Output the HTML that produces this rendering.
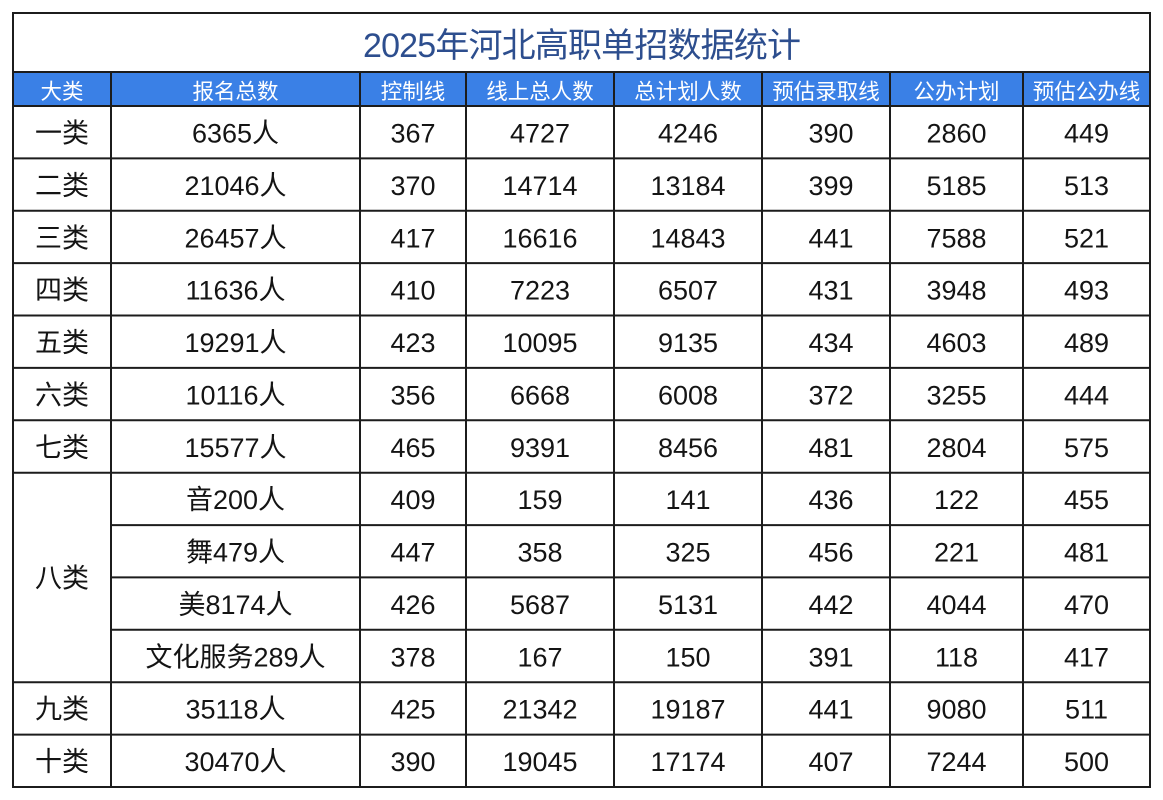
<!DOCTYPE html>
<html><head><meta charset="utf-8">
<style>
html,body{margin:0;padding:0;background:#fff;width:1163px;height:800px;overflow:hidden}
svg{display:block}
text{font-family:"Liberation Sans","Noto Sans CJK SC",sans-serif}
.t{font-size:34px;fill:#2d4e8e}
.h{font-size:21.5px;fill:#fff;text-anchor:middle}
.d{font-size:27px;fill:#141414;text-anchor:middle}
</style></head>
<body>
<svg width="1163" height="800" viewBox="0 0 1163 800" xmlns="http://www.w3.org/2000/svg">
<rect x="0" y="0" width="1163" height="800" fill="#fff"/>
<rect x="13" y="72" width="1137" height="34" fill="#3a80e6"/>
<text class="t" x="363" y="57" textLength="438" lengthAdjust="spacing">2025年河北高职单招数据统计</text>
<g>
<text class="h" x="62" y="99">大类</text>
<text class="h" x="235.5" y="99">报名总数</text>
<text class="h" x="413" y="99">控制线</text>
<text class="h" x="540" y="99">线上总人数</text>
<text class="h" x="688" y="99">总计划人数</text>
<text class="h" x="826" y="99">预估录取线</text>
<text class="h" x="956.5" y="99">公办计划</text>
<text class="h" x="1086.5" y="99">预估公办线</text>
</g>
<g stroke="#1c1c1c" stroke-width="2" fill="none">
<rect x="13" y="13" width="1137" height="774"/>
<line x1="13" y1="72" x2="1150" y2="72"/>
<line x1="13" y1="106" x2="1150" y2="106"/>
<line x1="111" y1="72" x2="111" y2="787"/>
<line x1="360" y1="72" x2="360" y2="787"/>
<line x1="466" y1="72" x2="466" y2="787"/>
<line x1="614" y1="72" x2="614" y2="787"/>
<line x1="762" y1="72" x2="762" y2="787"/>
<line x1="890" y1="72" x2="890" y2="787"/>
<line x1="1023" y1="72" x2="1023" y2="787"/>
<line x1="13" y1="158.4" x2="1150" y2="158.4"/>
<line x1="13" y1="210.8" x2="1150" y2="210.8"/>
<line x1="13" y1="263.1" x2="1150" y2="263.1"/>
<line x1="13" y1="315.5" x2="1150" y2="315.5"/>
<line x1="13" y1="367.9" x2="1150" y2="367.9"/>
<line x1="13" y1="420.3" x2="1150" y2="420.3"/>
<line x1="13" y1="472.7" x2="1150" y2="472.7"/>
<line x1="111" y1="525.1" x2="1150" y2="525.1"/>
<line x1="111" y1="577.4" x2="1150" y2="577.4"/>
<line x1="111" y1="629.8" x2="1150" y2="629.8"/>
<line x1="13" y1="682.2" x2="1150" y2="682.2"/>
<line x1="13" y1="734.6" x2="1150" y2="734.6"/>
</g>
<g>
<text class="d" x="62" y="142.5">一类</text><text class="d" x="235.5" y="142.5">6365人</text><text class="d" x="413" y="142.5">367</text><text class="d" x="540" y="142.5">4727</text><text class="d" x="688" y="142.5">4246</text><text class="d" x="831" y="142.5">390</text><text class="d" x="956.5" y="142.5">2860</text><text class="d" x="1086.5" y="142.5">449</text>
<text class="d" x="62" y="194.9">二类</text><text class="d" x="235.5" y="194.9">21046人</text><text class="d" x="413" y="194.9">370</text><text class="d" x="540" y="194.9">14714</text><text class="d" x="688" y="194.9">13184</text><text class="d" x="831" y="194.9">399</text><text class="d" x="956.5" y="194.9">5185</text><text class="d" x="1086.5" y="194.9">513</text>
<text class="d" x="62" y="247.3">三类</text><text class="d" x="235.5" y="247.3">26457人</text><text class="d" x="413" y="247.3">417</text><text class="d" x="540" y="247.3">16616</text><text class="d" x="688" y="247.3">14843</text><text class="d" x="831" y="247.3">441</text><text class="d" x="956.5" y="247.3">7588</text><text class="d" x="1086.5" y="247.3">521</text>
<text class="d" x="62" y="299.6">四类</text><text class="d" x="235.5" y="299.6">11636人</text><text class="d" x="413" y="299.6">410</text><text class="d" x="540" y="299.6">7223</text><text class="d" x="688" y="299.6">6507</text><text class="d" x="831" y="299.6">431</text><text class="d" x="956.5" y="299.6">3948</text><text class="d" x="1086.5" y="299.6">493</text>
<text class="d" x="62" y="352">五类</text><text class="d" x="235.5" y="352">19291人</text><text class="d" x="413" y="352">423</text><text class="d" x="540" y="352">10095</text><text class="d" x="688" y="352">9135</text><text class="d" x="831" y="352">434</text><text class="d" x="956.5" y="352">4603</text><text class="d" x="1086.5" y="352">489</text>
<text class="d" x="62" y="404.4">六类</text><text class="d" x="235.5" y="404.4">10116人</text><text class="d" x="413" y="404.4">356</text><text class="d" x="540" y="404.4">6668</text><text class="d" x="688" y="404.4">6008</text><text class="d" x="831" y="404.4">372</text><text class="d" x="956.5" y="404.4">3255</text><text class="d" x="1086.5" y="404.4">444</text>
<text class="d" x="62" y="456.8">七类</text><text class="d" x="235.5" y="456.8">15577人</text><text class="d" x="413" y="456.8">465</text><text class="d" x="540" y="456.8">9391</text><text class="d" x="688" y="456.8">8456</text><text class="d" x="831" y="456.8">481</text><text class="d" x="956.5" y="456.8">2804</text><text class="d" x="1086.5" y="456.8">575</text>
<text class="d" x="62" y="587.5">八类</text>
<text class="d" x="235.5" y="509.2">音200人</text><text class="d" x="413" y="509.2">409</text><text class="d" x="540" y="509.2">159</text><text class="d" x="688" y="509.2">141</text><text class="d" x="831" y="509.2">436</text><text class="d" x="956.5" y="509.2">122</text><text class="d" x="1086.5" y="509.2">455</text>
<text class="d" x="235.5" y="561.5">舞479人</text><text class="d" x="413" y="561.5">447</text><text class="d" x="540" y="561.5">358</text><text class="d" x="688" y="561.5">325</text><text class="d" x="831" y="561.5">456</text><text class="d" x="956.5" y="561.5">221</text><text class="d" x="1086.5" y="561.5">481</text>
<text class="d" x="235.5" y="613.9">美8174人</text><text class="d" x="413" y="613.9">426</text><text class="d" x="540" y="613.9">5687</text><text class="d" x="688" y="613.9">5131</text><text class="d" x="831" y="613.9">442</text><text class="d" x="956.5" y="613.9">4044</text><text class="d" x="1086.5" y="613.9">470</text>
<text class="d" x="235.5" y="666.3">文化服务289人</text><text class="d" x="413" y="666.3">378</text><text class="d" x="540" y="666.3">167</text><text class="d" x="688" y="666.3">150</text><text class="d" x="831" y="666.3">391</text><text class="d" x="956.5" y="666.3">118</text><text class="d" x="1086.5" y="666.3">417</text>
<text class="d" x="62" y="718.7">九类</text><text class="d" x="235.5" y="718.7">35118人</text><text class="d" x="413" y="718.7">425</text><text class="d" x="540" y="718.7">21342</text><text class="d" x="688" y="718.7">19187</text><text class="d" x="831" y="718.7">441</text><text class="d" x="956.5" y="718.7">9080</text><text class="d" x="1086.5" y="718.7">511</text>
<text class="d" x="62" y="771.1">十类</text><text class="d" x="235.5" y="771.1">30470人</text><text class="d" x="413" y="771.1">390</text><text class="d" x="540" y="771.1">19045</text><text class="d" x="688" y="771.1">17174</text><text class="d" x="831" y="771.1">407</text><text class="d" x="956.5" y="771.1">7244</text><text class="d" x="1086.5" y="771.1">500</text>
</g>
</svg>
</body></html>
